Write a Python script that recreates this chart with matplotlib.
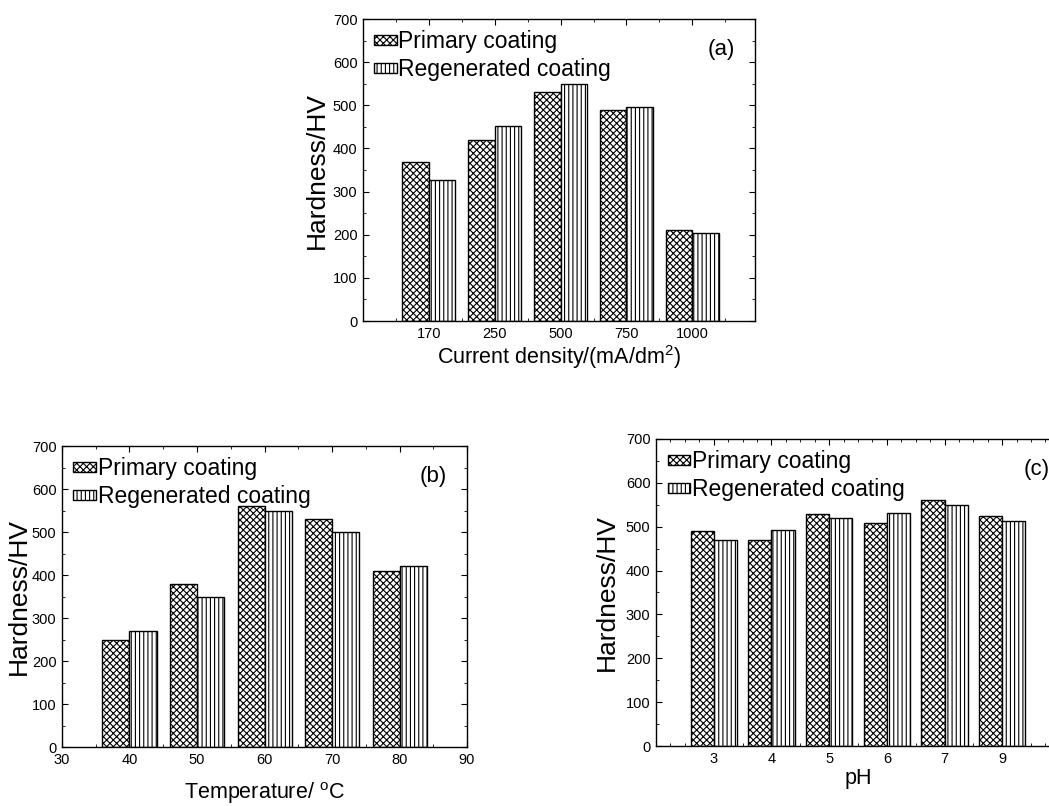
import numpy as np
import matplotlib
matplotlib.use("Agg")
import matplotlib.pyplot as plt
from matplotlib.ticker import MultipleLocator

plt.rcParams['font.family'] = ['Liberation Sans', 'DejaVu Sans']
plt.rcParams['mathtext.default'] = 'regular'
plt.rcParams['hatch.linewidth'] = 0.8

##############################################################################
""" DATA """
current_labels = ['170', '250', '500', '750', '1000']
current_primary = [368, 420, 530, 490, 210]
current_regen = [328, 452, 550, 496, 205]

temperature = [40, 50, 60, 70, 80]
temp_primary = [250, 380, 560, 530, 410]
temp_regen = [270, 350, 550, 500, 420]

ph_labels = ['3', '4', '5', '6', '7', '9']
ph_primary = [490, 470, 530, 508, 560, 524]
ph_regen = [470, 492, 520, 531, 550, 514]

series_names = ['Primary coating', 'Regenerated coating']

HATCH_P = 'xxxxx'
HATCH_R = '||||'

##############################################################################
""" FUNCTIONS """
def layout(ax):
    ax.set_axisbelow(True)
    ax.set_ylim(0, 700)
    ax.yaxis.set_major_locator(MultipleLocator(100))
    ax.yaxis.set_minor_locator(MultipleLocator(50))
    ax.tick_params(which='both', direction='in', top=True, right=True,
                   labelsize=10.5, pad=4)
    ax.tick_params(which='major', length=4, width=0.8)
    ax.tick_params(which='minor', length=2, width=0.6)
    for spine in ax.spines.values():
        spine.set_linewidth(1.0)


def draw_pairs(ax, x, primary, regen, width, offset):
    ax.bar(np.asarray(x) - offset, primary, width, color='white',
           edgecolor='black', linewidth=1.0, hatch=HATCH_P, label=series_names[0])
    ax.bar(np.asarray(x) + offset, regen, width, color='white',
           edgecolor='black', linewidth=1.0, hatch=HATCH_R, label=series_names[1])


def add_legend(ax, tag, tag_x=0.95):
    ax.legend(loc='upper left', bbox_to_anchor=(0.0, 1.0), frameon=False,
              fontsize=16.5, handlelength=1.0, handleheight=0.3,
              handletextpad=0.05, labelspacing=0.2, borderaxespad=0.3,
              borderpad=0.2)
    ax.text(tag_x, 0.90, tag, transform=ax.transAxes, fontsize=16,
            ha='right', va='center')


##############################################################################
""" FIGURE """
fig = plt.figure(figsize=(10.49, 8.06), dpi=100)

# (a) current density
ax_a = fig.add_axes([0.346, 0.6017, 0.3737, 0.3747])
layout(ax_a)
xa = np.arange(1, len(current_labels) + 1)
draw_pairs(ax_a, xa, current_primary, current_regen, 0.4, 0.2)
ax_a.set_xlim(0, 5.95)
ax_a.set_xticks(xa)
ax_a.set_xticklabels(current_labels)
ax_a.xaxis.set_minor_locator(MultipleLocator(0.5))
ax_a.set_xlabel('Current density/(mA/dm$^2$)', fontsize=15.5, labelpad=2)
ax_a.set_ylabel('Hardness/HV', fontsize=19, labelpad=3)
add_legend(ax_a, '(a)')

# (b) temperature
ax_b = fig.add_axes([0.0591, 0.0732, 0.3861, 0.3734])
layout(ax_b)
ax_b.bar(np.asarray(temperature), temp_primary, -4, align='edge', color='white',
         edgecolor='black', linewidth=1.0, hatch=HATCH_P, label=series_names[0])
ax_b.bar(np.asarray(temperature), temp_regen, 4, align='edge', color='white',
         edgecolor='black', linewidth=1.0, hatch=HATCH_R, label=series_names[1])
ax_b.set_xlim(30, 90)
ax_b.xaxis.set_major_locator(MultipleLocator(10))
ax_b.xaxis.set_minor_locator(MultipleLocator(5))
ax_b.set_xlabel('Temperature/ $^{o}$C', fontsize=15.5, labelpad=10)
ax_b.set_ylabel('Hardness/HV', fontsize=19, labelpad=1)
add_legend(ax_b, '(b)')

# (c) pH
ax_c = fig.add_axes([0.6254, 0.0744, 0.385, 0.381])
layout(ax_c)
xc = np.arange(1, len(ph_labels) + 1)
draw_pairs(ax_c, xc, ph_primary, ph_regen, 0.4, 0.2)
ax_c.set_xlim(0, 7)
ax_c.set_xticks(xc)
ax_c.set_xticklabels(ph_labels)
ax_c.xaxis.set_minor_locator(MultipleLocator(0.25))
ax_c.set_xlabel('pH', fontsize=15.5, labelpad=2)
ax_c.set_ylabel('Hardness/HV', fontsize=19, labelpad=5)
add_legend(ax_c, '(c)', tag_x=0.975)

fig.savefig('out.png', dpi=100)
